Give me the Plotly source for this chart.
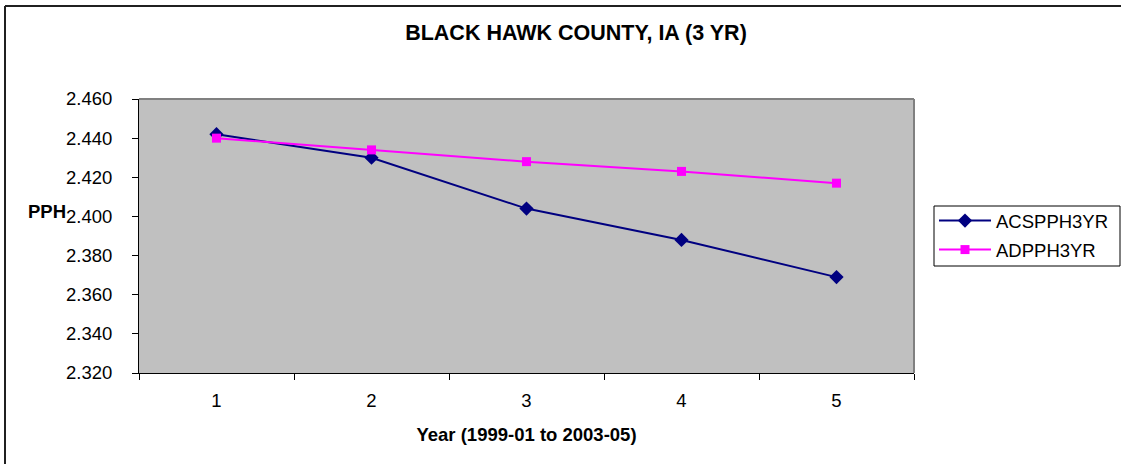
import plotly.graph_objects as go

years = ["1", "2", "3", "4", "5"]
acs_pph = [2.442, 2.430, 2.404, 2.388, 2.369]
adp_pph = [2.440, 2.434, 2.428, 2.423, 2.417]

W, H = 1121, 464
L, R, T, B = 139, W - 914, 99, H - 373
PW, PH = W - L - R, H - T - B
FONT = "Arial, Liberation Sans, sans-serif"
FS = 18.5

def px(x):
    return (x - L) / PW

def py(y):
    return (H - B - y) / PH

fig = go.Figure()
fig.add_trace(go.Scatter(
    x=years, y=acs_pph, name="ACSPPH3YR", mode="lines+markers", legendgroup="a",
    line=dict(color="#000080", width=2),
    marker=dict(symbol="diamond", size=11, color="#000080"),
))
fig.add_trace(go.Scatter(
    x=years, y=adp_pph, name="ADPPH3YR", mode="lines+markers", legendgroup="b",
    line=dict(color="#FF00FF", width=2),
    marker=dict(symbol="square", size=9, color="#FF00FF"),
))

fig.update_layout(
    width=W, height=H,
    margin=dict(l=L, r=R, t=T, b=B, autoexpand=False),
    paper_bgcolor="white", plot_bgcolor="#C0C0C0",
    font=dict(family=FONT, size=FS, color="black"),
    title=dict(text="<b>BLACK HAWK COUNTY, IA (3 YR)</b>", x=px(576), xref="paper",
               xanchor="center", y=1 - 32 / H, yanchor="middle",
               font=dict(size=21.5, family=FONT, color="black")),
    showlegend=True,
    legend=dict(x=px(934), y=py(202), xanchor="left", yanchor="top",
                borderwidth=0, bgcolor="rgba(0,0,0,0)",
                font=dict(size=FS, family=FONT), traceorder="grouped",
                tracegroupgap=2, itemwidth=52),
    xaxis=dict(type="category", range=[-0.5, 4.5], tickson="boundaries",
               ticks="outside", ticklen=6, ticklabelstandoff=11,
               tickcolor="black", showline=True, linecolor="black", linewidth=1,
               showgrid=False, zeroline=False,
               title=dict(text="<b>Year (1999-01 to 2003-05)</b>", standoff=17,
                          font=dict(size=FS, family=FONT))),
    yaxis=dict(range=[2.32, 2.46], tickvals=[2.32, 2.34, 2.36, 2.38, 2.40, 2.42, 2.44, 2.46],
               tickformat=".3f", ticks="outside", ticklen=6, tickcolor="black",
               ticklabelstandoff=16,
               showline=True, linecolor="black", linewidth=1,
               showgrid=False, zeroline=False),
)

# plot area top/right border
fig.add_shape(type="line", xref="paper", yref="paper", x0=0, x1=1, y0=1, y1=1,
              line=dict(color="#808080", width=2))
fig.add_shape(type="line", xref="paper", yref="paper", x0=1, x1=1, y0=0, y1=1,
              line=dict(color="#808080", width=2))
# legend box
fig.add_shape(type="rect", xref="paper", yref="paper",
              x0=px(934), x1=px(1120), y0=py(206), y1=py(266),
              line=dict(color="black", width=1), fillcolor="white", layer="below")
# outer chart border (left and top edges visible)
fig.add_shape(type="line", xref="paper", yref="paper",
              x0=px(5), x1=px(5), y0=py(6), y1=py(470),
              line=dict(color="#202020", width=2), layer="above")
fig.add_shape(type="line", xref="paper", yref="paper",
              x0=px(5), x1=px(1125), y0=py(6), y1=py(6),
              line=dict(color="#202020", width=2), layer="above")

fig.add_annotation(text="<b>PPH</b>", xref="paper", yref="paper",
                   x=px(68), y=py(211), xanchor="right", yanchor="middle",
                   showarrow=False, font=dict(size=FS, family=FONT))

fig.write_html("out.html", config={"displayModeBar": False},
               post_script="document.body.style.margin='0';document.body.style.overflow='hidden';")
